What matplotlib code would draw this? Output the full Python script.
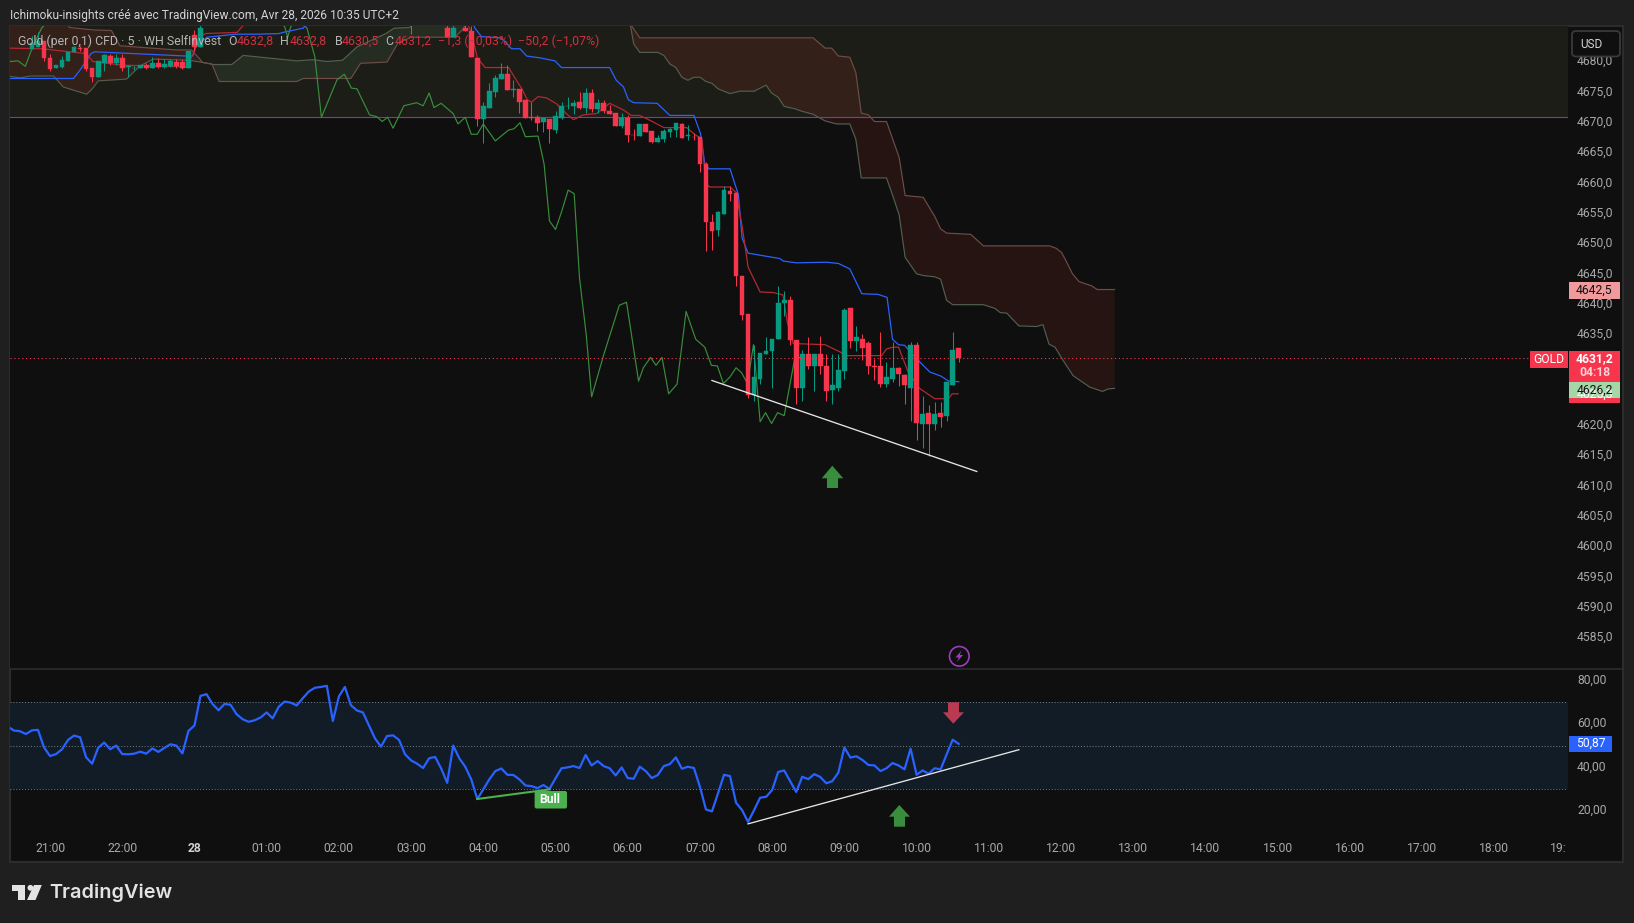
import numpy as np
import matplotlib
matplotlib.use("Agg")
import matplotlib.pyplot as plt
from matplotlib.patches import Rectangle, Polygon, Circle, FancyBboxPatch
from matplotlib.transforms import ScaledTranslation

plt.rcParams['font.family'] = ['Roboto', 'DejaVu Sans']

# candles: bar index (0 = 21:00, 12 bars per hour, the market break is skipped)
bar_idx = [-3] + list(range(-2, 26)) + [60, 66, 67] + list(range(69, 152))
opens = [4682.1, 4682.5, 4683.5, 4680.6, 4679.1, 4679.2, 4680.1, 4681.7, 4682.3, 4682.3, 4679.1, 4677.6, 4679.8, 4681.0,
         4679.8, 4680.6, 4679.2, 4679.0, 4679.1, 4679.5, 4679.1, 4679.8, 4679.2, 4679.4, 4680.0, 4680.0, 4679.1, 4684.4, 4682.5,
         4687.0, 4685.7, 4684.1,
         4685.7, 4685.1, 4680.7, 4670.6, 4672.5, 4675.0, 4677.2, 4678.0, 4675.4, 4675.5, 4673.7, 4670.9, 4671.0, 4670.1, 4670.6,
         4668.8, 4670.8, 4672.7, 4672.7, 4673.4, 4672.5, 4674.9, 4672.2, 4673.2, 4672.0, 4671.6, 4669.5, 4670.8, 4668.0, 4667.8,
         4669.8, 4668.6, 4666.8, 4667.3, 4668.5, 4668.8, 4669.8, 4667.8, 4667.7, 4667.6, 4663.2, 4653.7, 4652.3, 4655.0, 4658.7,
         4658.4, 4644.8, 4638.4, 4625.1, 4627.8, 4631.9, 4632.3, 4634.3, 4640.2, 4640.8, 4634.2, 4626.2, 4631.8, 4629.9, 4631.9,
         4629.9, 4625.9, 4626.3, 4629.0, 4639.5, 4634.0, 4634.4, 4633.6, 4629.9, 4629.9, 4627.0, 4627.8, 4629.5, 4628.4, 4626.3,
         4633.3, 4620.4, 4622.2, 4620.4, 4622.2, 4621.6, 4626.8, 4632.8]
highs = [4684.3, 4685.0, 4683.5, 4681.3, 4679.5, 4681.0, 4681.7, 4682.7, 4682.7, 4682.3, 4679.1, 4680.2, 4681.4, 4681.3,
         4681.3, 4681.3, 4679.5, 4679.4, 4679.6, 4679.9, 4680.9, 4680.6, 4680.5, 4680.5, 4680.5, 4680.5, 4681.8, 4685.3, 4686.5,
         4687.0, 4686.2, 4686.2,
         4686.2, 4686.0, 4680.7, 4673.5, 4676.6, 4677.8, 4679.8, 4679.5, 4677.1, 4675.5, 4673.7, 4673.4, 4671.2, 4670.8, 4670.6,
         4672.0, 4673.4, 4674.2, 4673.7, 4675.0, 4675.8, 4675.5, 4673.9, 4673.8, 4672.9, 4671.6, 4671.6, 4671.2, 4669.0, 4669.8,
         4669.8, 4668.6, 4667.9, 4669.0, 4669.2, 4670.0, 4669.9, 4669.6, 4668.3, 4667.7, 4663.5, 4655.0, 4655.5, 4659.5, 4659.5,
         4658.6, 4644.8, 4638.4, 4633.4, 4632.1, 4634.6, 4634.4, 4643.1, 4642.2, 4641.4, 4634.2, 4632.6, 4634.6, 4631.9, 4634.9,
         4631.9, 4631.9, 4631.9, 4639.5, 4639.5, 4636.5, 4635.1, 4634.0, 4631.1, 4635.5, 4630.6, 4633.8, 4629.7, 4628.5, 4633.9,
         4633.8, 4625.0, 4623.5, 4624.0, 4624.0, 4627.2, 4635.5, 4632.8]
lows = [4682.1, 4682.5, 4680.2, 4678.5, 4679.1, 4679.1, 4680.1, 4681.6, 4681.8, 4678.5, 4676.7, 4677.6, 4678.5, 4679.5,
        4679.6, 4678.6, 4677.6, 4678.7, 4679.0, 4678.8, 4679.1, 4679.1, 4679.1, 4679.2, 4679.1, 4678.8, 4679.1, 4681.8, 4682.5,
        4684.6, 4684.1, 4684.1,
        4685.1, 4680.8, 4669.4, 4666.7, 4672.5, 4674.3, 4677.2, 4675.4, 4674.3, 4671.6, 4670.8, 4670.5, 4668.7, 4668.5, 4666.7,
        4668.3, 4670.6, 4672.2, 4671.4, 4672.2, 4671.6, 4671.8, 4671.6, 4671.6, 4671.4, 4669.5, 4669.2, 4666.8, 4667.2, 4667.8,
        4668.4, 4666.7, 4666.8, 4666.8, 4667.7, 4667.6, 4667.5, 4667.2, 4667.2, 4661.9, 4648.9, 4649.0, 4651.3, 4655.0, 4657.1,
        4643.0, 4637.5, 4624.6, 4624.2, 4627.0, 4631.8, 4626.2, 4634.3, 4638.1, 4633.3, 4623.7, 4624.2, 4629.4, 4625.7, 4628.6,
        4624.1, 4623.6, 4625.7, 4627.7, 4632.8, 4632.3, 4630.8, 4628.5, 4627.5, 4626.4, 4626.4, 4627.2, 4626.6, 4623.7, 4620.9,
        4617.7, 4616.3, 4615.1, 4619.3, 4619.9, 4620.8, 4626.8, 4630.5]
closes = [4683.2, 4683.5, 4680.7, 4678.8, 4679.5, 4680.3, 4681.7, 4682.5, 4682.2, 4678.8, 4677.6, 4680.2, 4681.1, 4679.9,
          4680.7, 4679.0, 4679.3, 4679.1, 4679.5, 4679.1, 4679.9, 4679.2, 4679.7, 4680.2, 4679.4, 4679.1, 4681.8, 4682.5, 4685.7,
          4686.5, 4684.1, 4685.7,
          4685.1, 4680.8, 4670.6, 4672.7, 4675.2, 4677.3, 4678.0, 4675.4, 4675.5, 4673.5, 4670.8, 4670.7, 4670.0, 4670.8, 4668.9,
          4671.1, 4672.7, 4672.8, 4673.2, 4672.5, 4674.9, 4672.2, 4673.3, 4671.9, 4671.4, 4669.5, 4670.8, 4667.9, 4667.9, 4669.8,
          4668.5, 4666.8, 4667.5, 4668.6, 4668.9, 4669.9, 4667.5, 4667.9, 4667.6, 4663.2, 4653.7, 4652.2, 4655.2, 4658.9, 4658.3,
          4644.7, 4638.3, 4625.1, 4628.1, 4632.1, 4632.4, 4634.4, 4640.3, 4640.8, 4634.1, 4626.2, 4631.8, 4629.9, 4631.9, 4629.9,
          4625.7, 4626.7, 4629.3, 4639.2, 4634.0, 4634.6, 4632.8, 4629.9, 4629.8, 4627.0, 4628.0, 4629.5, 4628.5, 4626.7, 4633.4,
          4620.5, 4622.0, 4620.3, 4622.0, 4621.4, 4627.2, 4632.6, 4631.2]

# ichimoku lines as vertices
kijun_x = [-7, 3.9, 5, 6.8, 7.4, 9.5, 22.6, 23.7, 24.2, 26.1, 30.8, 34.4, 38, 39.2, 42.1, 43, 70, 70.6, 71.7, 75, 76.7, 78.1, 79.2, 81.4, 83.9, 85, 93, 94.1, 95.3, 96.1, 97, 100.9, 103, 107, 108.1, 108.8, 109.5, 113, 114.4, 115, 116, 121.3, 121.8, 124, 129, 131, 132.9, 134.9, 137.6, 139.1, 140, 141, 142, 144, 146.2, 148.1, 149.3, 151]
kijun_y = [4677.3, 4677.3, 4678.7, 4681.4, 4681.7, 4681.6, 4681.0, 4681.0, 4682.5, 4684.1, 4684.6, 4684.6, 4684.7, 4685.0, 4685.6, 4687, 4687, 4685.6, 4684.2, 4684.0, 4682.2, 4682.2, 4681.0, 4680.7, 4680.2, 4679.1, 4679.1, 4677.0, 4675.9, 4673.8, 4673.3, 4673.2, 4671.2, 4671.2, 4668.2, 4663.3, 4662.4, 4662.4, 4658.1, 4651.0, 4648.5, 4647.6, 4647.2, 4646.9, 4647.0, 4646.8, 4645.9, 4641.8, 4641.7, 4641.2, 4634.3, 4633.4, 4633.3, 4631.1, 4628.9, 4628.2, 4627.4, 4627.3]
tenkan_x = [-7, -1.4, 6, 7.1, 11.9, 22.6, 23.7, 25, 25.8, 31.1, 31.7, 33, 69, 70, 71, 72.3, 76.2, 77.5, 78.4, 79.3, 80, 81.1, 82.5, 84.2, 85.8, 87, 88.6, 90.8, 93, 95.3, 96.6, 98, 99.7, 102, 105.8, 107.2, 108.3, 109, 109.6, 113, 114, 115, 115.8, 116, 118, 120.2, 121.8, 122.5, 123.5, 128.8, 131.3, 132.4, 138.2, 139, 140.1, 141, 142.6, 144.5, 147, 149.3, 149.9, 150.9]
tenkan_y = [4682.3, 4682.2, 4681.4, 4680.1, 4679.5, 4679.2, 4681.2, 4684.2, 4684.7, 4684.9, 4685.6, 4687, 4687, 4685, 4680.7, 4679.1, 4679.1, 4677.0, 4675.6, 4673.8, 4673.4, 4674.3, 4674.1, 4673.1, 4671.5, 4670.5, 4671.3, 4671.5, 4673.2, 4672.1, 4671.2, 4671.2, 4670.4, 4669.2, 4669.2, 4668.0, 4667.4, 4660.0, 4659.4, 4659.4, 4658.5, 4653.0, 4647.6, 4646.2, 4642.1, 4642.0, 4641.6, 4637.2, 4633.6, 4633.4, 4632.2, 4631.6, 4631.6, 4632.7, 4633.0, 4633.0, 4628.9, 4626.2, 4624.5, 4624.5, 4625.3, 4625.3]
chikou_x = [-7, -6.5, -5.3, -4.1, -2.9, -1.4, 0, 38, 39, 39.5, 40, 41, 42.7, 44, 45.1, 47.7, 48.9, 50.1, 51, 53.1, 54.3, 55.2, 56.1, 57, 58.8, 60.9, 62, 63, 63.8, 65, 67, 67.8, 69, 70, 71, 72, 74, 76.2, 77.1, 78.1, 79, 81.1, 82.1, 83, 84, 85, 86.1, 87.1, 88, 89.1, 90, 92, 94.6, 95.8, 97.8, 98.6, 99.8, 100.7, 101.7, 102.8, 104.2, 105.7, 107.3, 108.8, 109.9, 110.9, 111.9, 113, 114, 114.9, 115.9, 116.9, 118, 118.9, 119.9, 120.9, 122, 123.8, 125]
chikou_y = [4680.2, 4680.1, 4680.2, 4679.3, 4682.5, 4685.6, 4687, 4687, 4685.8, 4684.1, 4685.8, 4687, 4685.6, 4680.9, 4670.9, 4677.1, 4678.0, 4675.7, 4675.6, 4671.3, 4671.0, 4670.2, 4670.9, 4669.1, 4672.8, 4673.3, 4672.8, 4674.9, 4672.5, 4673.2, 4671.5, 4669.8, 4670.9, 4668.1, 4668.1, 4669.8, 4667.0, 4668.8, 4669.0, 4670.0, 4667.7, 4667.8, 4663.2, 4653.8, 4652.4, 4655.3, 4658.9, 4658.3, 4644.3, 4635.1, 4624.8, 4631.7, 4639.9, 4640.4, 4627.4, 4629.6, 4631.3, 4630.0, 4631.3, 4625.3, 4626.9, 4638.9, 4634.3, 4633.0, 4630.0, 4629.9, 4627.0, 4628.1, 4629.6, 4628.8, 4627.0, 4633.4, 4620.7, 4622.2, 4620.4, 4622.2, 4621.7, 4631.4, 4631.2]

span_a_x = [-7, -5, -3.3, 0.6, 2.2, 6.1, 7.2, 8, 12.7, 15, 17.2, 22.7, 23.8, 25.3, 27.1, 30.2, 32.1, 41, 43.7, 46, 48.6, 51, 55.8, 57.2, 59.8, 61, 70,
            96.4, 97, 98, 101, 102, 103, 104, 105, 106, 107, 108, 109, 110, 111, 113, 114.6, 117, 119, 119.9, 121, 122, 123.8, 124.9, 126.8, 128.8, 130.7, 132.9, 133.9, 134.8, 139, 140.1, 141.1, 142.1, 144, 145.1, 147, 148, 149, 150, 155.1, 157, 157.9, 159, 161, 163.9, 165, 166, 167, 168.1, 170, 172.8, 174.9, 175.8, 176.9]
span_a_y = [4677.7, 4677.4, 4677.7, 4677.7, 4675.9, 4674.7, 4675.8, 4676.9, 4677.2, 4679.4, 4680.5, 4680.3, 4680.2, 4679.95, 4679.6, 4679.6, 4681.1, 4680.2, 4680.4, 4680.1, 4680.3, 4682.5, 4684.7, 4685.6, 4685.7, 4687.5, 4688,
            4686.3, 4683.0, 4681.6, 4681.6, 4681.1, 4679.7, 4679.1, 4677.5, 4677.0, 4677.5, 4677.5, 4676.8, 4676.5, 4675.6, 4674.8, 4675.2, 4675.2, 4676.2, 4674.9, 4674.2, 4672.7, 4672.3, 4671.9, 4671.4, 4670.3, 4669.8, 4669.8, 4667.3, 4660.9, 4660.9, 4657.8, 4654.8, 4647.8, 4645.1, 4644.8, 4644.6, 4644.2, 4640.7, 4640.0, 4640.0, 4639.4, 4638.7, 4638.6, 4636.5, 4636.4, 4636.7, 4633.5, 4633.0, 4631.2, 4628.3, 4626.4, 4625.7, 4626.1, 4626.2]
span_b_x = [-7, 2, 3.3, 7.2, 10.2, 11.6, 15.5, 21, 23.5, 24.9, 25.3, 26.9, 28.1, 41, 42.1, 50, 51.6, 56, 57.8, 60, 67.3, 68.7, 70,
            96.4, 96.9, 98, 126.8, 128.8, 129.9, 131, 132.9, 133.9, 134.8, 136, 137, 139, 141.1, 142.1, 145.1, 146.2, 147, 148, 149, 153, 155.1, 166.1, 167.2, 168.1, 168.9, 169.9, 171, 173.1, 174, 176.9]
span_b_y = [4688, 4687, 4685.7, 4685.3, 4685.2, 4682.7, 4682.4, 4682.0, 4682.0, 4680.5, 4679.95, 4679.7, 4676.8, 4676.8, 4677.3, 4677.3, 4679.8, 4680.0, 4683.1, 4684.1, 4684.1, 4685.5, 4688,
            4686.3, 4685.6, 4684.0, 4684.0, 4682.3, 4682.3, 4681.0, 4680.8, 4678.3, 4671.6, 4671.3, 4670.2, 4670.2, 4664.3, 4658.0, 4657.7, 4655.9, 4654.6, 4652.5, 4651.8, 4651.6, 4649.7, 4649.7, 4649.3, 4648.6, 4647.1, 4645.1, 4643.8, 4643.1, 4642.5, 4642.5]

# rsi, one value per bar from index -7
rsi_vals = [58.8, 57.0, 56.7, 55.4, 57.1, 57.3, 49.3, 45.3, 46.2, 48.4, 52.7, 54.7, 53.9, 44.7, 41.8, 49.1, 51.5, 48.4, 50.1, 46.2,
            46.1, 46.4, 47.3, 46.4, 48.8, 47.2, 49.0, 50.7, 50.1, 46.5, 56.8, 59.3, 72.9, 73.7, 69.2, 66.3, 69.2, 68.8, 64.5, 62.2,
            61.0, 61.7, 63.0, 65.3, 62.6, 67.9, 70.3, 69.8, 68.5, 71.8, 74.9, 76.6, 77.0, 77.5, 61.4, 72.6, 77.0, 68.6, 66.2, 65.3,
            59.3, 53.4, 49.6, 54.5, 54.8, 52.7, 46.1, 43.3, 41.8, 39.8, 44.3, 44.9, 39.6, 33.0, 50.1, 44.3, 40.4, 34.6, 25.6, 30.0,
            34.6, 38.4, 39.6, 36.7, 36.6, 34.6, 31.8, 31.5, 30.6, 32.0, 30.2, 35.1, 39.7, 40.1, 40.7, 39.8, 45.8, 41.0, 43.0, 40.7,
            39.7, 36.4, 40.1, 35.2, 34.9, 40.4, 38.4, 35.2, 36.6, 40.7, 41.6, 44.7, 39.5, 40.4, 39.8, 31.2, 20.8, 19.9, 28.2, 36.7,
            36.1, 23.9, 20.5, 15.1, 20.5, 26.2, 26.6, 29.7, 38.0, 38.7, 33.8, 28.8, 35.8, 34.7, 37.0, 35.7, 32.8, 33.8, 37.7, 49.2,
            44.6, 45.2, 43.5, 41.2, 41.0, 38.4, 39.7, 42.1, 41.0, 39.2, 48.7, 36.7, 38.7, 37.2, 39.7, 39.2, 46.1, 52.8, 50.87]

trend_x, trend_y = [110, 154], [4627.5, 4612.5]
rsi_trend_x, rsi_trend_y = [116, 161], [14.2, 48.2]
bull_x, bull_y = [71, 83], [25.6, 30.0]

price_ticks = list(range(4585, 4685, 5))
rsi_ticks = [20, 40, 60, 80]
time_labels = ["21:00", "22:00", "28", "01:00", "02:00", "03:00", "04:00", "05:00", "06:00", "07:00", "08:00", "09:00",
               "10:00", "11:00", "12:00", "13:00", "14:00", "15:00", "16:00", "17:00", "18:00"]

W, H = 1634, 923
BG = '#1f1f1f'
PANE = '#0f0f0f'
UP = '#089981'
DOWN = '#f7364d'
GREY = '#a8a8a8'


def frame(x0, y0, x1, y1):
    return [x0 / W, 1 - y1 / H, (x1 - x0) / W, (y1 - y0) / H]


fig = plt.figure(figsize=(W / 100, H / 100), dpi=100, facecolor=BG)

ax_bg = fig.add_axes([0, 0, 1, 1], zorder=0)
ax_bg.set_xlim(0, W)
ax_bg.set_ylim(H, 0)
ax_bg.axis('off')
ax_bg.add_patch(Rectangle((10, 26), 1613, 836, fc=PANE, ec='#2c2c2c', lw=1.5))

ax = fig.add_axes(frame(10, 26, 1568, 669), zorder=1, facecolor=PANE)
rs = fig.add_axes(frame(10, 669, 1568, 830), zorder=1, facecolor='none')

x_lim = (-6.65, 252.25)
ax.set_xlim(*x_lim)
rs.set_xlim(*x_lim)
ax.set_ylim(4579.93, 4685.95)
rs.set_ylim(11.38, 85.23)

# price pane
ax.axhspan(4670.9, 4700, color='#1d1d17', lw=0, zorder=0)
ax.axhline(4670.9, color='#9c27b0', lw=0.8, zorder=2)

a_x, a_y = np.array(span_a_x), np.array(span_a_y)
b_x, b_y = np.array(span_b_x), np.array(span_b_y)
for lo, hi, col in [(-8, 25.3, '#b0372a'), (25.3, 70, '#598e61'), (96.4, 178, '#b0372a')]:
    ma = (a_x >= lo) & (a_x <= hi)
    mb = (b_x >= lo) & (b_x <= hi)
    ax.fill(np.r_[a_x[ma], b_x[mb][::-1]], np.r_[a_y[ma], b_y[mb][::-1]], color=col, alpha=0.15, lw=0, zorder=1)
ax.plot(span_a_x, span_a_y, color='#525f4e', lw=0.85, zorder=3)
ax.plot(span_b_x, span_b_y, color='#6f4c47', lw=0.85, zorder=3)
ax.plot(chikou_x, chikou_y, color='#388e3c', lw=0.85, zorder=3)
ax.plot(kijun_x, kijun_y, color='#2962ff', lw=0.9, zorder=3)
ax.plot(tenkan_x, tenkan_y, color='#b22833', lw=0.9, zorder=3)

o, h, l, c = np.array(opens), np.array(highs), np.array(lows), np.array(closes)
colors = [UP if cc >= oo else DOWN for oo, cc in zip(o, c)]
ax.vlines(bar_idx, l, h, colors=colors, lw=0.75, zorder=4)
ax.bar(bar_idx, np.abs(c - o), bottom=np.minimum(o, c), width=0.78, color=colors, edgecolor=colors, lw=0.3, zorder=5)

ax.plot(trend_x, trend_y, color='#e6e6e6', lw=0.95, zorder=6)
ax.plot([x_lim[0], 252.25], [4631.2, 4631.2], color=DOWN, lw=0.8, ls=(0, (1, 2.5)), zorder=6)

# rsi pane
rs.axhspan(30, 70, color='#111c26', lw=0, zorder=0)
for lvl in [70, 50, 30]:
    rs.axhline(lvl, color='#7d7f86', lw=0.7, ls=(0, (1, 2)), zorder=1)
rs.plot(range(-7, 152), rsi_vals, color='#2962ff', lw=1.6, zorder=3)
rs.plot(bull_x, bull_y, color='#4caf50', lw=1.5, zorder=3)
rs.plot(rsi_trend_x, rsi_trend_y, color='#e6e6e6', lw=0.95, zorder=4)

# axes dressing
for a in (ax, rs):
    for s in a.spines.values():
        s.set_visible(False)
    a.yaxis.tick_right()
    a.tick_params(axis='y', length=0, pad=6.5, labelsize=8.7, labelcolor=GREY)
ax.set_yticks(price_ticks)
ax.set_yticklabels(["%d,0" % p for p in price_ticks])
rs.set_yticks(rsi_ticks)
rs.set_yticklabels(["%d,00" % v for v in rsi_ticks])
ax.set_xticks([])
rs.set_xticks([i * 12 for i in range(len(time_labels))])
rs.set_xticklabels(time_labels)
rs.tick_params(axis='x', length=0, pad=9, labelsize=8.7, labelcolor=GREY)
for t in rs.get_xticklabels():
    if t.get_text() == "28":
        t.set_fontweight('bold')
        t.set_color('#d1d1d1')

# y labels sit a touch above their level in the reference
nudge = ScaledTranslation(0, 1.5 / 72, fig.dpi_scale_trans)
for a in (ax, rs):
    for t in a.get_yticklabels():
        t.set_transform(t.get_transform() + nudge)

# overlay in pixels: boxes, labels, header, logo
top = fig.add_axes([0, 0, 1, 1], zorder=10, facecolor='none')
top.set_xlim(0, W)
top.set_ylim(H, 0)
top.axis('off')

top.plot([10, 1623], [669, 669], color='#2c2c2c', lw=1.2)

top.text(10, 15, "Ichimoku-insights créé avec TradingView.com, Avr 28, 2026 10:35 UTC+2", color='#d4d4d4',
         fontsize=8.65, va='center', ha='left')

LG = '#b5b5b5'
LR = '#cf3040'
legend_parts = [(18, "Gold (per 0,1) CFD · 5 · WH SelfInvest", LG), (228, "O", LG), (236.5, "4632,8", LR), (280, "H", LG),
                (289.5, "4632,8", LR), (335, "B", LG), (341.5, "4630,5", LR), (385, "C", LG), (394.5, "4631,2", LR),
                (438.5, "−1,3 (−0,03%)", LR), (518, "−50,2 (−1,07%)", LR)]
for lx, txt, col in legend_parts:
    top.text(lx, 41.5, txt, color=col, fontsize=8.9, va='center', ha='left')

# usd button
top.add_patch(FancyBboxPatch((1572, 31), 48, 25.5, boxstyle='round,pad=0,rounding_size=4', fc=PANE, ec='#3a3a3a', lw=1.3))
top.text(1591.5, 44.5, "USD", color='#d4d4d4', fontsize=8.5, ha='center', va='center')

# price tags
top.add_patch(Rectangle((1569, 282), 51, 17, fc='#f09a9e', lw=0))
top.text(1594.5, 290.5, "4642,5", color='#111111', fontsize=8.7, ha='center', va='center')
top.add_patch(Rectangle((1530, 351), 38, 17, fc=DOWN, lw=0))
top.text(1549, 359.5, "GOLD", color='white', fontsize=8.7, ha='center', va='center')
top.add_patch(Rectangle((1569, 351), 51, 31, fc=DOWN, lw=0))
top.text(1594.5, 358.5, "4631,2", color='white', fontsize=8.7, fontweight='bold', ha='center', va='center')
top.text(1594.5, 372.5, "04:18", color='#ffd0d5', fontsize=8.7, fontweight='bold', ha='center', va='center')
top.add_patch(Rectangle((1569, 386), 51, 17, fc=DOWN, lw=0))
top.text(1594.5, 394.5, "4625,3", color='white', fontsize=8.7, ha='center', va='center')
top.add_patch(Rectangle((1569, 382), 51, 16, fc='#a5d6a7', lw=0))
top.text(1594.5, 390, "4626,2", color='#111111', fontsize=8.7, ha='center', va='center')
top.add_patch(Rectangle((1569, 736), 43, 15.5, fc='#2962ff', lw=0))
top.text(1590.5, 743.7, "50,87", color='white', fontsize=8.7, ha='center', va='center')
top.text(1567, 848, "19:", color=GREY, fontsize=8.7, ha='right', va='center')

# arrows
GREEN_ARROW = '#388e3c'
top.add_patch(Polygon([(832.3, 465.7), (843.3, 478.3), (838, 478.3), (838, 488), (827, 488), (827, 478.3), (821.7, 478.3)], fc=GREEN_ARROW, lw=0))
top.add_patch(Polygon([(899.3, 805), (910, 816.7), (905, 816.7), (905, 826.7), (894, 826.7), (894, 816.7), (889, 816.7)], fc=GREEN_ARROW, lw=0))
top.add_patch(Polygon([(948, 702.3), (959, 702.3), (959, 712.3), (964, 712.3), (953.3, 723.7), (943, 712.3), (948, 712.3)], fc='#b93a51', lw=0))

# lightning badge
top.add_patch(Circle((959.3, 656.3), 9.8, fc=PANE, ec='#9c3dbb', lw=1.2))
top.add_patch(Polygon([(961.5, 650.5), (955.5, 657.5), (958.8, 657.5), (957, 662), (963, 655), (959.7, 655)], fc='#9c3dbb', lw=0))

# bull label
top.add_patch(FancyBboxPatch((534.6, 791), 32.4, 17.5, boxstyle='round,pad=0,rounding_size=2', fc='#4caf50', lw=0))
top.text(549.8, 799.8, "Bull", color='white', fontsize=8.7, fontweight='bold', ha='center', va='center')

# tradingview logo
LOGO = '#e3e3e3'
top.add_patch(Polygon([(12.5, 885), (25, 885), (25, 900), (18, 900), (18, 891), (12.5, 891)], fc=LOGO, lw=0))
top.add_patch(Circle((30.4, 887.8), 2.9, fc=LOGO, lw=0))
top.add_patch(Polygon([(34, 885), (41.8, 885), (35.5, 900), (27, 900)], fc=LOGO, lw=0))
top.text(49, 893, "TradingView", color=LOGO, fontsize=14.3, fontfamily='Inter', fontweight='semibold', ha='left', va='center')

fig.savefig('out.png', dpi=100, facecolor=BG)
